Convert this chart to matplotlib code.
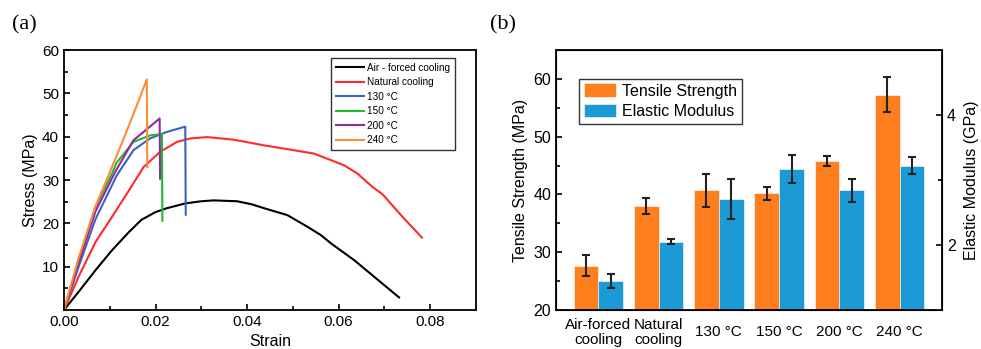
import numpy as np
from matplotlib import pyplot as plt

plt.rcParams['font.family'] = ['Liberation Sans', 'DejaVu Sans']

# stress-strain curves (a)
air_x = [0, 0.0032, 0.0069, 0.0105, 0.0142, 0.0169, 0.0200, 0.0225, 0.0265, 0.0300, 0.0327, 0.0378, 0.0410,
         0.0437, 0.0488, 0.0532, 0.0561, 0.0583, 0.0634, 0.0732]
air_y = [0, 4.2, 9.2, 13.8, 18.0, 20.8, 22.6, 23.5, 24.6, 25.1, 25.3, 25.1, 24.4,
         23.5, 21.9, 19.2, 17.3, 15.4, 11.5, 2.9]
nat_x = [0, 0.0032, 0.0069, 0.0105, 0.0142, 0.0174, 0.0210, 0.0247, 0.0276, 0.0313, 0.0371, 0.0437, 0.0495,
         0.0546, 0.0583, 0.0612, 0.0641, 0.0674, 0.0696, 0.0736, 0.0782]
nat_y = [0, 7.7, 15.7, 21.5, 27.6, 33.0, 36.5, 38.8, 39.6, 39.9, 39.3, 38.0, 37.0,
         36.1, 34.6, 33.4, 31.5, 28.4, 26.7, 21.9, 16.7]
c130_x = [0, 0.0032, 0.0069, 0.0105, 0.0115, 0.0152, 0.0188, 0.0225, 0.0261, 0.0265, 0.0266]
c130_y = [0, 10.0, 21.0, 28.8, 31.0, 36.9, 39.6, 41.1, 42.2, 42.3, 22.0]
c150_x = [0, 0.0032, 0.0069, 0.0105, 0.0115, 0.0152, 0.0188, 0.0214, 0.0215]
c150_y = [0, 11.5, 23.8, 31.5, 34.0, 38.8, 40.3, 40.6, 20.6]
c200_x = [0, 0.0032, 0.0069, 0.0112, 0.0152, 0.0174, 0.0209, 0.0210]
c200_y = [0, 11.0, 22.8, 31.9, 39.2, 41.1, 44.2, 30.3]
c240_x = [0, 0.0032, 0.0069, 0.0101, 0.0123, 0.0152, 0.0181, 0.0182]
c240_y = [0, 12.0, 24.0, 32.0, 37.6, 45.3, 53.2, 33.0]

curve_names = ['Air - forced cooling', 'Natural cooling', '130 °C', '150 °C', '200 °C', '240 °C']
curve_colors = ['black', '#ff2a2a', '#3a62c4', '#22b92e', '#8e2ca4', '#ff8c33']

# bar chart (b)
groups = ['Air-forced\ncooling', 'Natural\ncooling', '130 °C', '150 °C', '200 °C', '240 °C']
tensile = [27.7, 38.0, 40.7, 40.2, 45.8, 57.3]
tensile_err = [1.8, 1.4, 2.85, 1.1, 0.85, 3.1]
modulus = [1.45, 2.05, 2.71, 3.17, 2.84, 3.22]
modulus_err = [0.11, 0.04, 0.31, 0.21, 0.18, 0.13]

fig = plt.figure(figsize=(9.81, 3.49), dpi=100)

# ---- (a)
ax1 = fig.add_axes([0.0652, 0.1117, 0.42, 0.745])
curves = [(air_x, air_y), (nat_x, nat_y), (c130_x, c130_y), (c150_x, c150_y), (c200_x, c200_y), (c240_x, c240_y)]
for (x, y), name, col in zip(curves, curve_names, curve_colors):
    ax1.plot(x, y, color=col, lw=1.5, label=name, solid_joinstyle='round')
ax1.set_xlim(0, 0.09)
ax1.set_ylim(0, 60)
ax1.set_xticks([0, 0.02, 0.04, 0.06, 0.08])
ax1.set_xticklabels(['0.00', '0.02', '0.04', '0.06', '0.08'])
ax1.set_xticks(np.arange(0.01, 0.09, 0.02), minor=True)
ax1.set_yticks([10, 20, 30, 40, 50, 60])
ax1.set_yticks(np.arange(5, 60, 10), minor=True)
ax1.tick_params(which='both', direction='in', labelsize=11, width=1.2)
ax1.tick_params(which='major', length=4)
ax1.tick_params(which='minor', length=3)
for s in ax1.spines.values():
    s.set_linewidth(1.3)
ax1.set_ylabel('Stress (MPa)', fontsize=11.5, labelpad=3)
ax1.set_xlabel('Strain', fontsize=11.5, labelpad=4)
leg1 = ax1.legend(loc='upper right', fontsize=7.2, frameon=True, fancybox=False, edgecolor='black',
                  handlelength=2.8, handletextpad=0.3, labelspacing=0.45, borderpad=0.5,
                  bbox_to_anchor=(0.962, 0.99))
leg1.get_frame().set_linewidth(1.0)

# ---- (b)
ax2 = fig.add_axes([0.5668, 0.1117, 0.3934, 0.745])
ax3 = ax2.twinx()
idx = np.arange(len(groups))
w = 0.41
ax2.bar(idx - w / 2, tensile, w, color='#ff7f1e', edgecolor='white', linewidth=0.4, label='Tensile Strength')
ax2.errorbar(idx - w / 2, tensile, yerr=tensile_err, fmt='none', ecolor='#222222', elinewidth=1.5, capsize=3, capthick=1.5)
ax3.bar(idx + w / 2, modulus, w, color='#1b9ad6', edgecolor='white', linewidth=0.4, label='Elastic Modulus')
ax3.errorbar(idx + w / 2, modulus, yerr=modulus_err, fmt='none', ecolor='#222222', elinewidth=1.5, capsize=3, capthick=1.5)
ax2.set_xlim(-0.7, 5.7)
ax2.set_ylim(20, 65)
ax3.set_ylim(1, 5)
ax2.set_xticks(idx)
ax2.set_xticklabels(groups, fontsize=11, va='center', linespacing=1.05)
ax2.tick_params(axis='x', length=0, pad=16)
ax2.set_yticks([20, 30, 40, 50, 60])
ax2.set_yticks([25, 35, 45, 55], minor=True)
ax2.tick_params(axis='y', which='both', direction='in', labelsize=11.5, width=1.2)
ax2.tick_params(axis='y', which='major', length=4)
ax2.tick_params(axis='y', which='minor', length=3)
ax3.set_yticks([2, 4])
ax3.set_yticks([3], minor=True)
ax3.tick_params(axis='y', which='both', direction='in', labelsize=11.5, width=1.2)
ax3.tick_params(axis='y', which='major', length=4)
ax3.tick_params(axis='y', which='minor', length=3)
for s in ax3.spines.values():
    s.set_linewidth(1.3)
ax2.set_ylabel('Tensile Strength (MPa)', fontsize=11.5, labelpad=4)
ax3.set_ylabel('Elastic Modulus (GPa)', fontsize=11.5, labelpad=6)
h1, l1 = ax2.get_legend_handles_labels()
h2, l2 = ax3.get_legend_handles_labels()
leg2 = ax3.legend(h1 + h2, l1 + l2, loc='upper left', fontsize=11.5, frameon=True, fancybox=False,
                  edgecolor='black', handlelength=2.0, handleheight=0.95, handletextpad=0.4,
                  labelspacing=0.3, borderpad=0.3, borderaxespad=0, bbox_to_anchor=(0.06, 0.89))
leg2.get_frame().set_linewidth(1.0)

fig.text(0.012, 0.93, '(a)', fontsize=16, family='Liberation Serif', va='center')
fig.text(0.499, 0.93, '(b)', fontsize=16, family='Liberation Serif', va='center')

fig.savefig('out.png', dpi=100)
